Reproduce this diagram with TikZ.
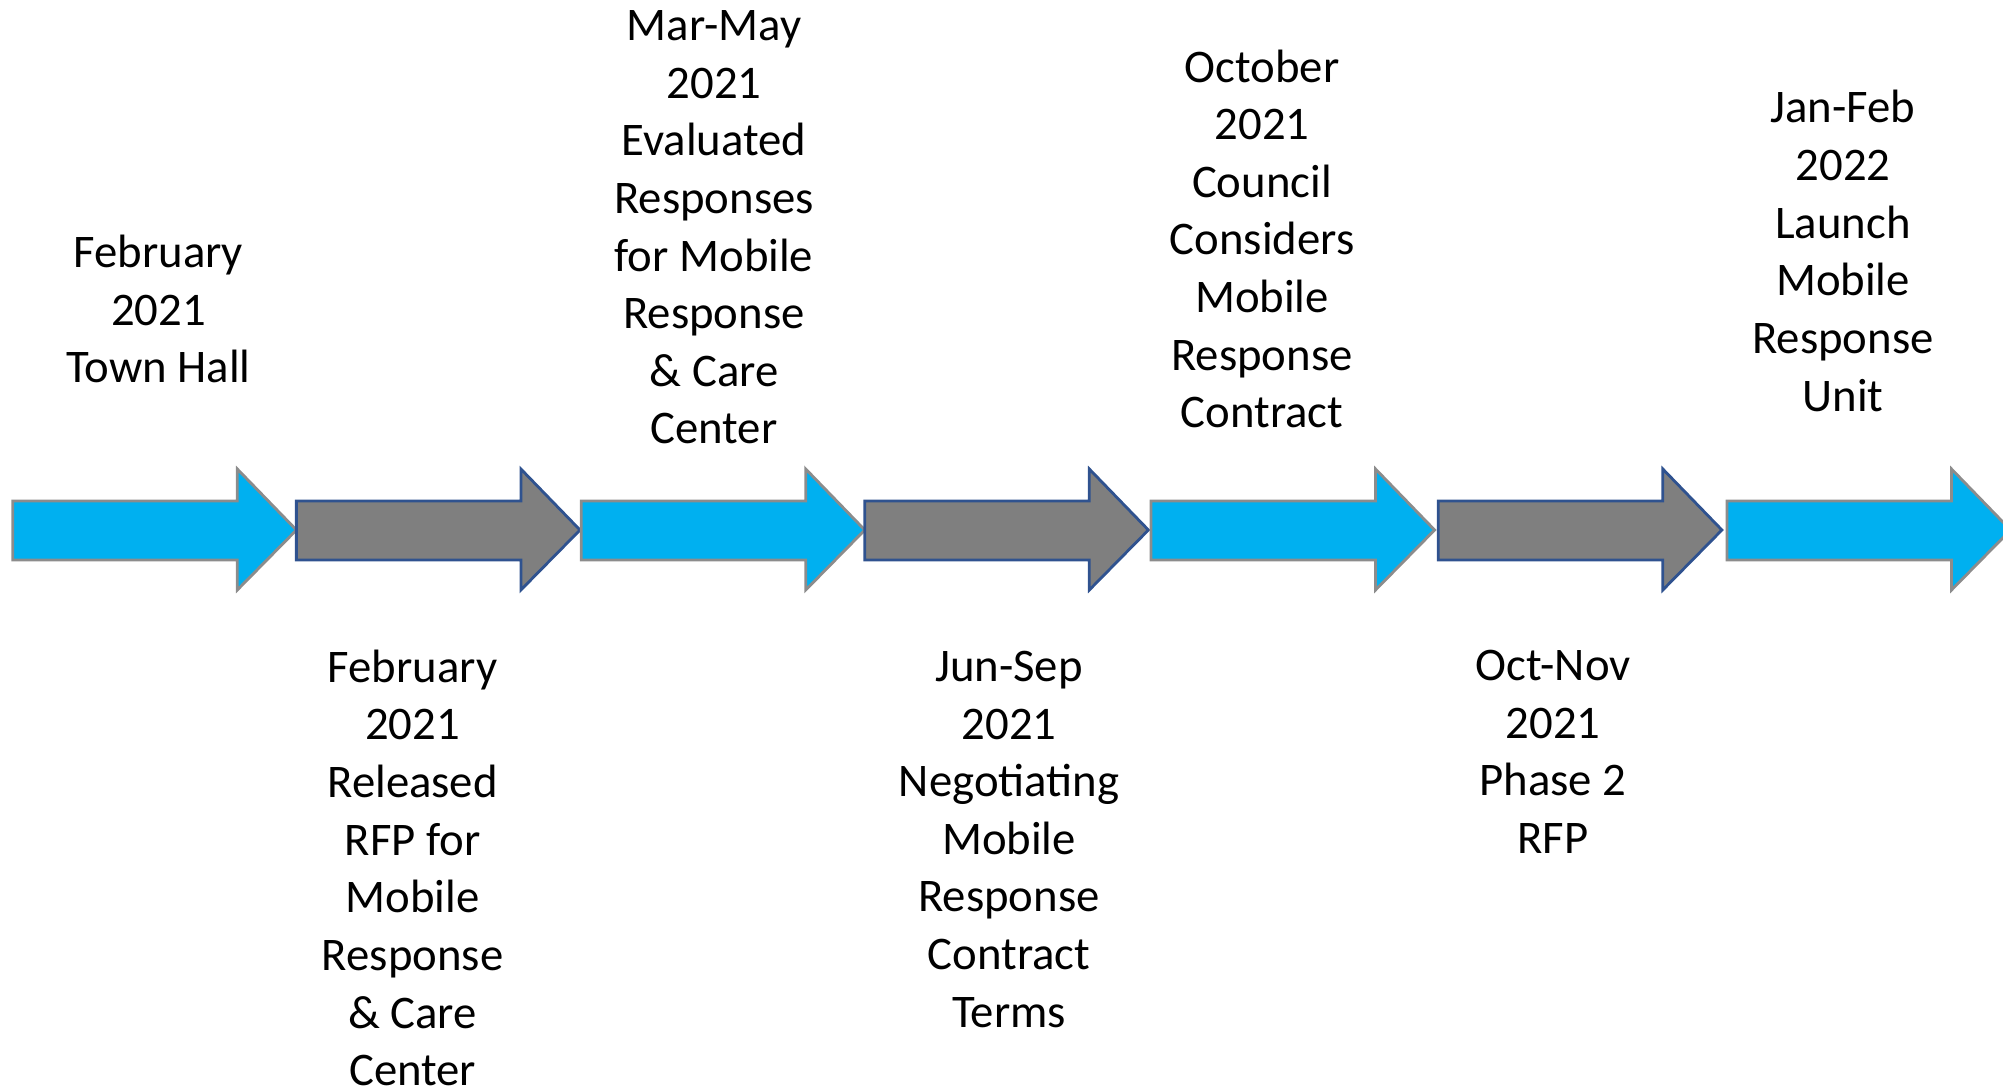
\documentclass[tikz,border=0pt]{standalone}
\usepackage{fontspec}
\setmainfont{Carlito}
\definecolor{tlblue}{HTML}{00B0F0}
\definecolor{tlgray}{HTML}{7F7F7F}
\definecolor{tlblueline}{HTML}{8C8C8C}
\definecolor{tlgrayline}{HTML}{2F528F}

\begin{document}
\begin{tikzpicture}[
  bluearrow/.style={fill=tlblue, draw=tlblueline, line width=0.8pt},
  grayarrow/.style={fill=tlgray, draw=tlgrayline, line width=0.8pt},
  event/.style={align=center, inner sep=0pt, font=\fontsize{13.3}{16.4}\selectfont}]
\useasboundingbox (0,0) rectangle (20.03,10.90);
\clip (0,0) rectangle (20.03,10.90);
% timeline arrows
\foreach \x/\s in {0.128/bluearrow, 2.964/grayarrow, 5.812/bluearrow, 8.648/grayarrow,
                   11.51/bluearrow, 14.383/grayarrow, 17.27/bluearrow}
  \draw[\s] (\x,5.30) -- (\x+2.245,5.30) -- (\x+2.245,5.00) -- (\x+2.836,5.60)
    -- (\x+2.245,6.21) -- (\x+2.245,5.89) -- (\x,5.89) -- cycle;
% events above
\node[event] (t1) at (1.584,7.81) {February\\2021\\Town Hall};
\node[event] (t3) at (7.14,8.626) {Mar-May\\2021\\Evaluated\\Responses\\for Mobile\\Response\\\& Care\\Center};
\node[event] (t5) at (12.62,8.511) {October\\2021\\Council\\Considers\\Mobile\\Response\\Contract};
\node[event] (t7) at (18.43,8.39) {Jan-Feb\\2022\\Launch\\Mobile\\Response\\Unit};
% events below
\node[event] (t2) at (4.126,2.22) {February\\2021\\Released\\RFP for\\Mobile\\Response\\\& Care\\Center};
\node[event] (t4) at (10.09,2.507) {Jun-Sep\\2021\\Negotiating\\Mobile\\Response\\Contract\\Terms};
\node[event] (t6) at (15.53,3.382) {Oct-Nov\\2021\\Phase 2\\RFP};
\end{tikzpicture}
\end{document}
